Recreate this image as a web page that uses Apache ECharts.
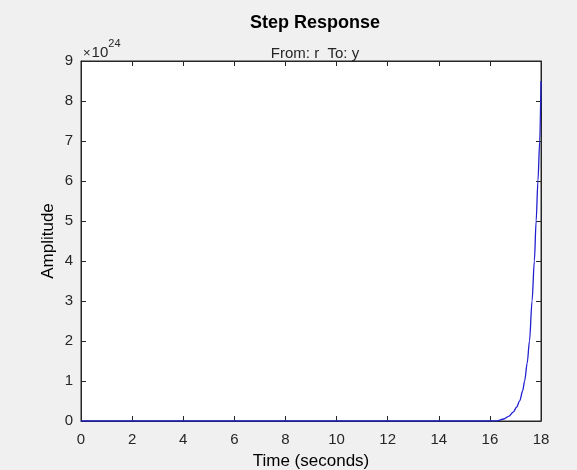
<!DOCTYPE html>
<html><head><meta charset="utf-8">
<script src="https://cdn.jsdelivr.net/npm/echarts@6/dist/echarts.min.js"></script>
<style>html,body{margin:0;padding:0;background:#f0f0f0;}#c{width:577px;height:470px;}</style>
</head><body><div id="c"></div>
<script>
// Time (s)
const timeSec = [0, 2, 4, 6, 8, 10, 12, 14, 15, 16, 16.28, 16.54, 16.75, 16.91, 17.05, 17.17, 17.28, 17.36, 17.46, 17.55, 17.65, 17.74, 17.81, 17.88, 17.95, 18.0];
// Amplitude in units of 1e24
const amplitudeE24 = [0, 0, 0, 0, 0, 0, 0, 0, 0, 0, 0.005, 0.05, 0.12, 0.22, 0.35, 0.51, 0.75, 1.0, 1.45, 2.0, 3.0, 4.0, 5.0, 6.0, 7.0, 8.5];
const xTicks = [0, 2, 4, 6, 8, 10, 12, 14, 16, 18];
const yTicks = [0, 1, 2, 3, 4, 5, 6, 7, 8, 9];

const font = 'Liberation Sans, Arial, sans-serif';
const txt = '#262626';
const chart = echarts.init(document.getElementById('c'), null, {renderer: 'canvas'});
const axisCommon = {
  axisLine: {show: true, onZero: false, lineStyle: {color: txt, width: 1}},
  axisTick: {show: true, inside: true, length: 5, lineStyle: {color: txt}},
  splitLine: {show: false}
};
chart.setOption({
  backgroundColor: '#f0f0f0',
  animation: false,
  title: [
    {text: 'Step Response', left: 310, top: 9, textAlign: 'center',
     textStyle: {fontFamily: font, fontSize: 18, fontWeight: 'bold', color: '#000'}},
    {text: 'From: r  To: y', left: 310, top: 41, textAlign: 'center',
     textStyle: {fontFamily: font, fontSize: 15, fontWeight: 'normal', color: txt}},
    {text: '{a|×}{b|10}{c|24}', left: 78, top: 33,
     textStyle: {fontWeight: 'normal', rich: {
       a: {fontFamily: font, fontSize: 13, fontWeight: 'normal', color: txt, verticalAlign: 'bottom', padding: [7,1,0,0]},
       b: {fontFamily: font, fontSize: 15, fontWeight: 'normal', color: txt, verticalAlign: 'bottom', padding: [7,0,0,0]},
       c: {fontFamily: font, fontSize: 11, fontWeight: 'normal', color: txt, verticalAlign: 'top', padding: [0,0,5,0]}
     }}}
  ],
  grid: {left: 81, right: 36, top: 61, bottom: 49, containLabel: false, outerBoundsMode: 'none',
    show: true, backgroundColor: '#ffffff', borderColor: txt, borderWidth: 1},
  xAxis: [
    Object.assign({type: 'value', min: 0, max: 18, interval: 2, position: 'bottom',
      name: 'Time (seconds)', nameLocation: 'middle', nameGap: 32,
      nameTextStyle: {fontFamily: font, fontSize: 17, color: '#000'},
      axisLabel: {fontFamily: font, fontSize: 15, color: txt, margin: 11,
        formatter: v => xTicks.includes(v) ? String(v) : ''}}, axisCommon),
    Object.assign({type: 'value', min: 0, max: 18, interval: 2, position: 'top', axisLabel: {show: false}}, axisCommon)
  ],
  yAxis: [
    Object.assign({type: 'value', min: 0, max: 9, interval: 1, position: 'left',
      name: 'Amplitude', nameLocation: 'middle', nameGap: 24, nameRotate: 90, nameMoveOverlap: false,
      nameTextStyle: {fontFamily: font, fontSize: 17, color: '#000'},
      axisLabel: {fontFamily: font, fontSize: 15, color: txt, margin: 8,
        formatter: v => yTicks.includes(v) ? String(v) : ''}}, axisCommon),
    Object.assign({type: 'value', min: 0, max: 9, interval: 1, position: 'right', axisLabel: {show: false}}, axisCommon)
  ],
  series: [{
    type: 'line', xAxisIndex: 0, yAxisIndex: 0,
    data: timeSec.map((t, i) => [t, amplitudeE24[i]]),
    showSymbol: false, smooth: 0.3, smoothMonotone: 'x',
    lineStyle: {color: '#1f1fd0', width: 1.3}
  }]
});
</script></body></html>
